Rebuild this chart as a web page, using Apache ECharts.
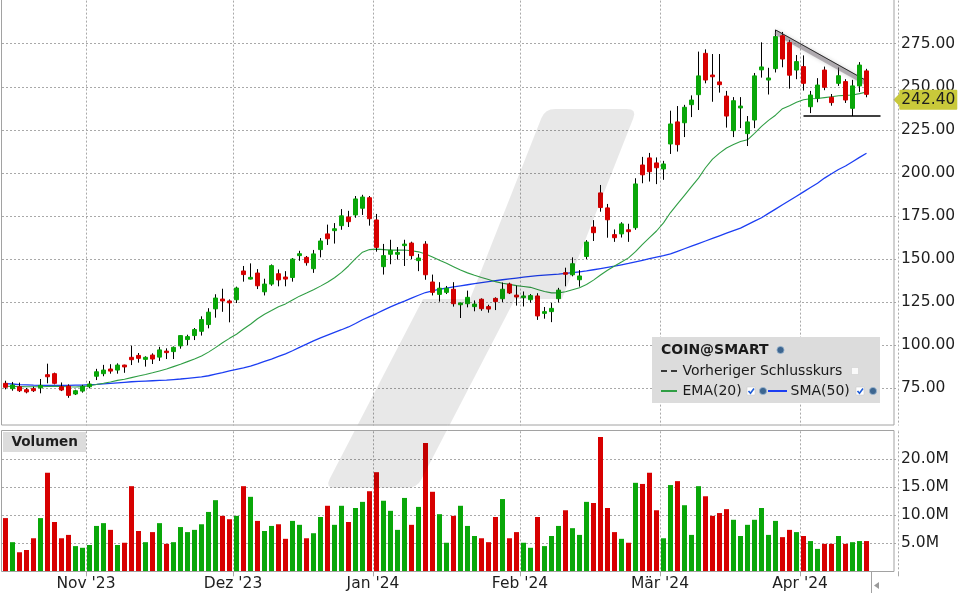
<!DOCTYPE html>
<html><head><meta charset="utf-8">
<script src="https://cdn.jsdelivr.net/npm/echarts@6/dist/echarts.min.js"></script>
<style>html,body{margin:0;padding:0;background:#fff}#c{width:960px;height:600px}</style>
</head><body><div id="c"></div><script>
// ---- data ----
const dates = [
'2023-10-16','2023-10-17','2023-10-18','2023-10-19','2023-10-20','2023-10-23','2023-10-24','2023-10-25','2023-10-26','2023-10-27','2023-10-30','2023-10-31',
'2023-11-01','2023-11-02','2023-11-03','2023-11-06','2023-11-07','2023-11-08','2023-11-09','2023-11-10','2023-11-13','2023-11-14','2023-11-15','2023-11-16','2023-11-17','2023-11-20','2023-11-21','2023-11-22','2023-11-24','2023-11-27','2023-11-28','2023-11-29','2023-11-30',
'2023-12-01','2023-12-04','2023-12-05','2023-12-06','2023-12-07','2023-12-08','2023-12-11','2023-12-12','2023-12-13','2023-12-14','2023-12-15','2023-12-18','2023-12-19','2023-12-20','2023-12-21','2023-12-22','2023-12-26','2023-12-27','2023-12-28','2023-12-29',
'2024-01-02','2024-01-03','2024-01-04','2024-01-05','2024-01-08','2024-01-09','2024-01-10','2024-01-11','2024-01-12','2024-01-16','2024-01-17','2024-01-18','2024-01-19','2024-01-22','2024-01-23','2024-01-24','2024-01-25','2024-01-26','2024-01-29','2024-01-30','2024-01-31',
'2024-02-01','2024-02-02','2024-02-05','2024-02-06','2024-02-07','2024-02-08','2024-02-09','2024-02-12','2024-02-13','2024-02-14','2024-02-15','2024-02-16','2024-02-20','2024-02-21','2024-02-22','2024-02-23','2024-02-26','2024-02-27','2024-02-28','2024-02-29',
'2024-03-01','2024-03-04','2024-03-05','2024-03-06','2024-03-07','2024-03-08','2024-03-11','2024-03-12','2024-03-13','2024-03-14','2024-03-15','2024-03-18','2024-03-19','2024-03-20','2024-03-21','2024-03-22','2024-03-25','2024-03-26','2024-03-27','2024-03-28',
'2024-04-01','2024-04-02','2024-04-03','2024-04-04','2024-04-05','2024-04-08','2024-04-09','2024-04-10','2024-04-11','2024-04-12'];
const opens = [77.9,74.8,75.9,74.2,74.8,75.3,82.9,83.5,75.9,76.3,71.7,73.4,
75.9,82.0,83.5,86.2,85.6,88.5,93.0,94.1,91.8,94.3,93.1,96.6,96.3,99.6,103.3,105.6,108.1,112.0,121.1,126.8,125.7,
126.4,143.1,138.4,141.9,131.0,135.5,141.5,139.6,139.3,152.0,151.0,144.4,155.5,164.6,166.5,169.4,174.4,175.6,179.5,185.6,
172.7,145.6,152.8,152.8,157.8,159.3,149.1,158.7,136.7,129.5,130.7,132.5,123.5,124.1,122.4,126.7,122.4,127.2,127.0,135.5,129.1,
127.6,126.4,128.6,118.5,119.5,127.0,142.1,140.9,138.0,151.5,168.6,188.4,179.7,164.2,164.6,167.0,168.2,204.6,208.7,205.8,
202.3,216.8,229.6,229.1,239.6,245.4,269.4,256.8,252.8,244.6,224.5,237.7,222.8,230.7,259.8,253.9,260.5,279.6,275.6,259.7,
261.7,238.4,243.3,259.7,243.9,252.0,253.0,237.5,250.5,259.2];
const closes = [75.6,76.9,73.6,72.9,73.6,76.7,81.7,77.9,74.0,70.9,73.6,76.2,
77.5,84.6,85.6,85.0,88.5,87.4,91.6,92.4,93.0,92.0,97.3,95.7,98.8,105.6,105.0,109.1,114.9,119.2,127.4,125.7,124.6,
133.2,141.0,139.4,134.5,135.5,146.2,137.9,138.4,150.0,153.1,147.9,153.0,160.5,161.8,167.6,175.1,171.7,184.9,186.0,173.4,
156.8,152.0,155.1,153.9,158.7,152.0,150.6,140.9,130.7,133.1,133.1,124.1,124.5,127.8,123.9,121.2,121.0,125.3,132.5,130.3,128.0,
128.6,128.8,117.0,119.5,121.4,132.0,141.2,147.3,140.2,159.9,165.3,179.9,172.8,162.4,170.4,165.9,193.6,198.9,200.7,203.0,
205.2,228.4,216.4,238.1,242.3,256.3,253.9,255.8,251.2,233.0,241.9,238.8,229.6,256.3,261.5,255.1,279.1,266.1,256.7,264.6,
252.0,245.2,251.0,249.7,240.8,256.4,242.3,250.5,262.6,245.6];
const lows = [74.4,73.6,72.9,72.1,72.9,72.1,77.9,77.3,73.4,69.5,71.1,72.5,
75.0,79.8,82.0,83.5,83.5,84.0,88.5,89.9,87.6,89.1,90.9,92.0,92.0,98.0,100.0,103.0,105.6,109.8,116.0,119.4,113.3,
124.5,136.9,138.2,132.6,128.9,134.5,134.2,134.2,136.9,149.0,146.2,142.0,151.0,158.2,159.0,167.0,168.6,174.0,175.6,169.4,
154.3,141.0,147.0,149.7,146.0,150.0,143.0,138.0,128.9,125.3,129.7,122.4,115.8,122.0,119.7,120.0,118.9,120.4,125.0,129.7,123.0,
122.5,124.7,114.7,115.4,113.4,124.8,134.2,140.0,134.0,150.0,160.5,177.5,162.4,160.0,162.5,160.0,167.0,194.0,195.0,193.5,
196.0,211.0,212.4,220.8,232.4,236.5,252.0,241.3,246.6,226.3,220.8,226.0,215.6,226.0,255.3,245.5,258.3,261.3,248.9,254.4,
247.8,234.7,241.0,248.0,239.0,250.5,240.6,233.0,247.0,243.9];
const highs = [79.4,78.7,78.3,75.2,75.9,80.4,89.3,84.1,78.4,77.3,74.2,77.0,
79.2,86.3,88.6,89.0,89.5,88.7,99.7,95.5,93.6,95.3,99.1,98.2,99.3,105.8,106.1,110.0,116.8,121.5,129.6,132.8,126.6,
134.0,146.0,147.5,144.2,138.6,146.9,144.0,143.0,150.6,154.8,151.8,155.3,162.2,170.0,170.9,179.0,178.0,186.6,187.3,186.6,
176.2,158.8,161.2,157.0,161.2,160.1,153.0,160.4,141.0,136.6,134.4,136.6,124.8,131.7,126.0,127.2,123.5,127.8,136.4,136.3,134.6,
131.2,129.7,130.2,122.2,124.6,133.3,145.0,151.0,143.6,161.0,172.6,193.0,182.0,167.2,171.4,170.5,196.9,209.3,211.6,209.0,
207.0,236.1,238.8,239.5,245.0,270.4,271.7,269.0,269.0,247.6,244.0,244.0,233.0,258.0,275.8,261.0,283.0,281.8,277.2,268.4,
268.2,247.6,255.0,261.7,245.8,261.2,254.4,254.0,264.3,260.4];
const volumesM = [9.5,5.2,3.4,3.8,5.9,9.5,17.6,8.8,5.9,6.5,4.5,4.2,
4.7,8.1,8.6,7.4,4.7,5.1,15.2,7.2,5.2,7.0,8.6,4.9,5.2,7.9,7.0,7.4,8.4,10.6,12.7,9.9,9.3,
9.9,15.2,13.3,9.0,7.2,8.1,8.4,5.8,9.0,8.3,5.9,6.8,9.7,11.7,8.3,11.7,8.8,11.3,12.4,14.3,
17.7,12.6,10.8,7.4,13.1,8.3,11.5,22.9,14.2,10.2,5.1,9.9,11.7,8.1,6.3,5.9,5.2,9.7,12.9,5.9,7.0,
5.1,4.2,9.7,4.5,6.3,8.1,10.9,7.7,6.5,12.4,12.2,24.0,11.3,7.0,5.8,5.1,15.8,15.6,17.6,10.9,
5.9,15.4,16.1,11.8,6.5,15.2,13.4,9.9,10.4,11.1,9.2,6.3,8.3,9.2,11.3,6.5,9.0,6.1,7.4,7.0,
6.3,5.4,4.0,4.9,4.9,6.3,4.9,5.2,5.4,5.4];
const ema20 = [76.2,76.1,76.0,75.9,75.9,75.9,76.1,76.2,76.1,75.9,75.8,76.0,
76.5,77.2,77.9,78.7,79.6,80.3,81.2,82.1,83.0,84.0,85.1,86.2,87.6,89.0,90.5,92.0,93.8,96.0,98.6,101.4,104.0,
106.4,109.4,112.2,115.4,118.0,120.1,122.3,124.0,126.3,128.5,130.3,132.2,134.3,136.6,139.2,142.3,146.0,150.3,154.0,155.5,
155.8,155.5,155.2,155.2,155.3,154.8,154.2,153.0,151.2,149.3,147.6,145.6,143.6,142.0,140.6,139.3,138.1,136.9,136.0,135.3,134.6,
134.1,133.6,132.4,131.2,130.4,130.4,131.0,132.2,133.4,135.2,137.8,140.8,143.5,146.0,148.3,150.7,154.3,158.5,162.5,166.3,
171.0,177.0,182.0,187.0,192.0,197.0,203.0,208.0,211.5,214.5,216.5,218.2,219.2,223.0,227.0,230.5,233.5,237.3,239.0,241.0,
242.5,243.0,243.2,243.7,244.2,244.8,245.0,245.2,246.0,247.0];
const sma50 = [77.7,77.5,77.2,77.0,76.8,76.7,76.7,76.7,76.7,76.7,76.8,76.9,
77.1,77.3,77.6,77.9,78.2,78.5,78.8,79.0,79.2,79.4,79.6,79.8,80.1,80.4,80.8,81.2,81.6,82.3,83.2,84.1,85.1,
86.0,86.9,87.9,89.2,90.6,92.0,93.5,95.0,96.8,98.8,100.6,102.5,104.3,105.9,107.5,109.0,110.6,112.6,114.8,116.6,
118.4,120.4,122.3,124.0,125.6,127.3,129.0,130.6,131.6,132.5,133.2,133.9,134.5,135.1,135.7,136.3,136.9,137.5,138.0,138.5,139.0,
139.5,140.0,140.4,140.7,141.0,141.3,141.7,142.1,142.6,143.1,143.8,144.5,145.2,145.9,146.7,147.5,148.4,149.3,150.2,151.1,
152.0,153.0,154.5,156.0,157.5,159.0,160.5,162.0,163.5,165.0,166.5,168.0,170.0,172.0,174.0,176.5,179.0,181.5,184.0,186.5,
189.0,191.5,194.0,197.0,199.5,202.0,204.0,206.5,209.0,211.4];
const lastPrice = 242.40;
const trendStart = [110.2, 283.0], trendEnd = [122.8, 253.5];     // drawn resistance line (index, price)
const supportLevel = 233.0, supportFrom = 113.8, supportTo = 125.1; // drawn support line
const priceTicks = [75, 100, 125, 150, 175, 200, 225, 250, 275];
const volumeTicks = [5, 10, 15, 20];
const monthNames = ['Jan','Feb','Mär','Apr','Mai','Jun','Jul','Aug','Sep','Okt','Nov','Dez'];

// ---- chart ----
const FONT = 'DejaVu Sans';
const GREEN = '#09a709', RED = '#d70000';
const EMA_C = '#2f9e44', SMA_C = '#1c3ef2';
const PAD = 4; // empty categories on the right
const cats = dates.concat(new Array(PAD).fill(''));
const isMonthStart = (i) => i > 0 && i < dates.length && dates[i].slice(0, 7) !== dates[i - 1].slice(0, 7);
const gl = { color: '#a9a9a9', type: [2, 2], width: 1 };
const axisTxt = { fontFamily: FONT, fontSize: 15.5, color: '#1e1e1e' };

const ohlcData = dates.map((d, i) => [opens[i], closes[i], lows[i], highs[i]]);
const bodyData = dates.map((d, i) => [opens[i], closes[i], Math.min(opens[i], closes[i]), Math.max(opens[i], closes[i])]);
const volData = dates.map((d, i) => ({ value: volumesM[i], itemStyle: { color: closes[i] >= opens[i] ? GREEN : RED } }));

const chart = echarts.init(document.getElementById('c'), null, { renderer: 'canvas', width: 960, height: 600 });

const globe = (cx, cy) => ({ type: 'circle', z: 34, shape: { cx: cx, cy: cy, r: 3.6 }, style: { fill: '#3d6690', stroke: '#9cb6d0', lineWidth: 0.8 } });
const checkBox = (x, y) => ({ type: 'rect', z: 34, shape: { x: x, y: y, width: 8, height: 8 }, style: { fill: '#fff', stroke: '#cfcfcf', lineWidth: 0.6 } });
const checkMark = (x, y) => ({ type: 'polyline', z: 35, shape: { points: [[x + 1.5, y + 4], [x + 3.5, y + 6.3], [x + 7, y + 1.5]] }, style: { stroke: '#1e5cd6', lineWidth: 1.6, fill: null } });

// watermark outline (two offset slanted bars with rounded ends)
const wmPoints = [[541.3,118.3],[543.55,114.23],[546.58,111.33],[550.4,109.58],[555,109],
  [627,109],[631.15,109.58],[633.58,111.33],[634.3,114.23],[633.3,118.3],
  [562,299],[515,299],
  [421.6,479.1],[418.97,482.99],[415.65,485.78],[411.67,487.44],[407,488],
  [335,488],[330.92,487.44],[328.65,485.78],[328.22,482.99],[329.6,479.1],
  [423,299],[470,299]];

const option = {
  animation: false,
  backgroundColor: '#fff',
  grid: [
    { left: 2, top: 0.6, width: 7 * cats.length, height: 430.8 },
    { left: 2, top: 431.3, width: 7 * cats.length, height: 140 }
  ],
  xAxis: [
    { type: 'category', gridIndex: 0, data: cats, boundaryGap: true,
      axisLine: { show: false }, axisTick: { show: false }, axisLabel: { show: false },
      splitLine: { show: true, interval: (i) => isMonthStart(i), lineStyle: gl } },
    { type: 'category', gridIndex: 1, data: cats, boundaryGap: true,
      axisLine: { show: false },
      axisTick: { show: true, interval: (i) => isMonthStart(i), length: 5, lineStyle: { color: '#a9a9a9' } },
      axisLabel: Object.assign({ show: true, interval: (i) => isMonthStart(i), margin: 5, padding: [0, 7, 0, 0],
        formatter: (v) => v ? monthNames[+v.slice(5, 7) - 1] + " '" + v.slice(2, 4) : '' }, axisTxt),
      splitLine: { show: true, interval: (i) => isMonthStart(i), lineStyle: gl } }
  ],
  yAxis: [
    { type: 'value', gridIndex: 0, position: 'right', min: 50, max: 300, interval: 25,
      axisLine: { show: false }, axisTick: { show: false },
      axisLabel: Object.assign({ margin: 3, formatter: (v) => priceTicks.indexOf(v) >= 0 ? v.toFixed(2) : '' }, axisTxt),
      splitLine: { show: true, showMinLine: false, showMaxLine: false, lineStyle: gl } },
    { type: 'value', gridIndex: 1, position: 'right', min: 0, max: 25, interval: 5,
      axisLine: { show: false }, axisTick: { show: false },
      axisLabel: Object.assign({ margin: 3, formatter: (v) => volumeTicks.indexOf(v) >= 0 ? v.toFixed(1) + 'M' : '' }, axisTxt),
      splitLine: { show: true, showMinLine: false, showMaxLine: false, lineStyle: gl } }
  ],
  series: [
    { name: 'SMA(50)', type: 'line', xAxisIndex: 0, yAxisIndex: 0, data: sma50, showSymbol: false, symbol: 'none',
      lineStyle: { color: SMA_C, width: 1.3 }, z: 3 },
    { name: 'EMA(20)', type: 'line', xAxisIndex: 0, yAxisIndex: 0, data: ema20, showSymbol: false, symbol: 'none',
      lineStyle: { color: EMA_C, width: 1.1 }, z: 3 },
    { name: 'wick', type: 'candlestick', xAxisIndex: 0, yAxisIndex: 0, data: ohlcData, barWidth: 1, z: 4,
      itemStyle: { color: '#000', color0: '#000', borderColor: '#000', borderColor0: '#000', borderWidth: 1 } },
    { name: 'COIN@SMART', type: 'candlestick', xAxisIndex: 0, yAxisIndex: 0, data: bodyData, barWidth: 4, z: 5,
      itemStyle: { color: GREEN, color0: RED, borderColor: GREEN, borderColor0: RED, borderWidth: 1 },
      markLine: { silent: true, symbol: ['none', 'none'], animation: false, label: { show: false },
        data: [
          [{ coord: [trendStart[0], trendStart[1] - 1.3], lineStyle: { color: 'rgba(110,100,110,0.45)', width: 5, type: 'solid', shadowBlur: 4, shadowColor: 'rgba(0,0,0,0.35)' } },
           { coord: [trendEnd[0], trendEnd[1] - 1.3] }],
          [{ coord: trendStart, lineStyle: { color: '#2a2a2a', width: 1, type: 'solid' } }, { coord: trendEnd }],
          [{ coord: [supportFrom, supportLevel], lineStyle: { color: '#000', width: 1.5, type: 'solid' } }, { coord: [supportTo, supportLevel] }]
        ] },
      markPoint: { silent: true, animation: false,
        data: [{ coord: [cats.length - 1, lastPrice],
          symbol: 'path://M0,10L6,4L6,1Q6,0 7,0L63,0Q64,0 64,1L64,19Q64,20 63,20L7,20Q6,20 6,19L6,16Z',
          symbolSize: [64, 20], symbolOffset: [30.8, 0], itemStyle: { color: '#c9c93a' },
          label: Object.assign({ show: true, position: 'inside', offset: [3, 0], formatter: () => lastPrice.toFixed(2) }, axisTxt) }] } },
    { name: 'Volumen', type: 'bar', xAxisIndex: 1, yAxisIndex: 1, data: volData, barWidth: 5, z: 4 }
  ],
  graphic: [
    // gap between the two panels
    { type: 'rect', shape: { x: 0, y: 425.5, width: 900, height: 5 }, style: { fill: '#fff' }, z: 30 },
    // panel frames
    { type: 'rect', shape: { x: 1.5, y: -1, width: 892.5, height: 426 }, style: { fill: null, stroke: '#a2a2a2', lineWidth: 1 }, z: 31 },
    { type: 'rect', shape: { x: 1.5, y: 430.5, width: 892.5, height: 141 }, style: { fill: null, stroke: '#a2a2a2', lineWidth: 1 }, z: 31 },
    { type: 'line', shape: { x1: 871.5, y1: 572, x2: 871.5, y2: 593 }, style: { stroke: '#a2a2a2', lineWidth: 1 }, z: 31 },
    { type: 'polygon', shape: { points: [[874, 585.5], [879, 582], [879, 589]] }, style: { fill: '#9a9a9a' }, z: 31 },
    // watermark
    { type: 'polygon', shape: { points: wmPoints }, style: { fill: 'rgba(0,0,0,0.09)' }, z: 25 },
    // volume caption
    { type: 'rect', shape: { x: 3, y: 432, width: 83, height: 20 }, style: { fill: '#dcdcdc' }, z: 32 },
    { type: 'text', x: 11.5, y: 442, style: { text: 'Volumen', fontFamily: FONT, fontWeight: 'bold', fontSize: 13.6, fill: '#1e1e1e', verticalAlign: 'middle' }, z: 33 },
    // legend box
    { type: 'rect', shape: { x: 652, y: 337, width: 228, height: 66 }, style: { fill: '#dcdcdc' }, z: 32 },
    { type: 'text', x: 661, y: 350.5, style: { text: 'COIN@SMART', fontFamily: FONT, fontWeight: 'bold', fontSize: 14, fill: '#1a1a1a', verticalAlign: 'middle' }, z: 33 },
    globe(780.5, 350),
    { type: 'line', shape: { x1: 661, y1: 371, x2: 667, y2: 371 }, style: { stroke: '#3a3a3a', lineWidth: 2 }, z: 33 },
    { type: 'line', shape: { x1: 671, y1: 371, x2: 677, y2: 371 }, style: { stroke: '#3a3a3a', lineWidth: 2 }, z: 33 },
    { type: 'text', x: 682.5, y: 371, style: { text: 'Vorheriger Schlusskurs', fontFamily: FONT, fontSize: 14, fill: '#1a1a1a', verticalAlign: 'middle' }, z: 33 },
    { type: 'rect', shape: { x: 851.5, y: 367.5, width: 7, height: 7 }, style: { fill: '#fafafa', stroke: '#d0d0d0', lineWidth: 0.6 }, z: 33 },
    { type: 'line', shape: { x1: 661, y1: 391, x2: 677, y2: 391 }, style: { stroke: EMA_C, lineWidth: 2 }, z: 33 },
    { type: 'text', x: 682.5, y: 391, style: { text: 'EMA(20)', fontFamily: FONT, fontSize: 14, fill: '#1a1a1a', verticalAlign: 'middle' }, z: 33 },
    checkBox(747, 387), checkMark(747, 387),
    globe(763, 391),
    { type: 'line', shape: { x1: 768, y1: 391, x2: 787, y2: 391 }, style: { stroke: SMA_C, lineWidth: 2 }, z: 33 },
    { type: 'text', x: 790.5, y: 391, style: { text: 'SMA(50)', fontFamily: FONT, fontSize: 14, fill: '#1a1a1a', verticalAlign: 'middle' }, z: 33 },
    checkBox(856, 387), checkMark(856, 387),
    globe(873, 391)
  ]
};
chart.setOption(option);
</script></body></html>
